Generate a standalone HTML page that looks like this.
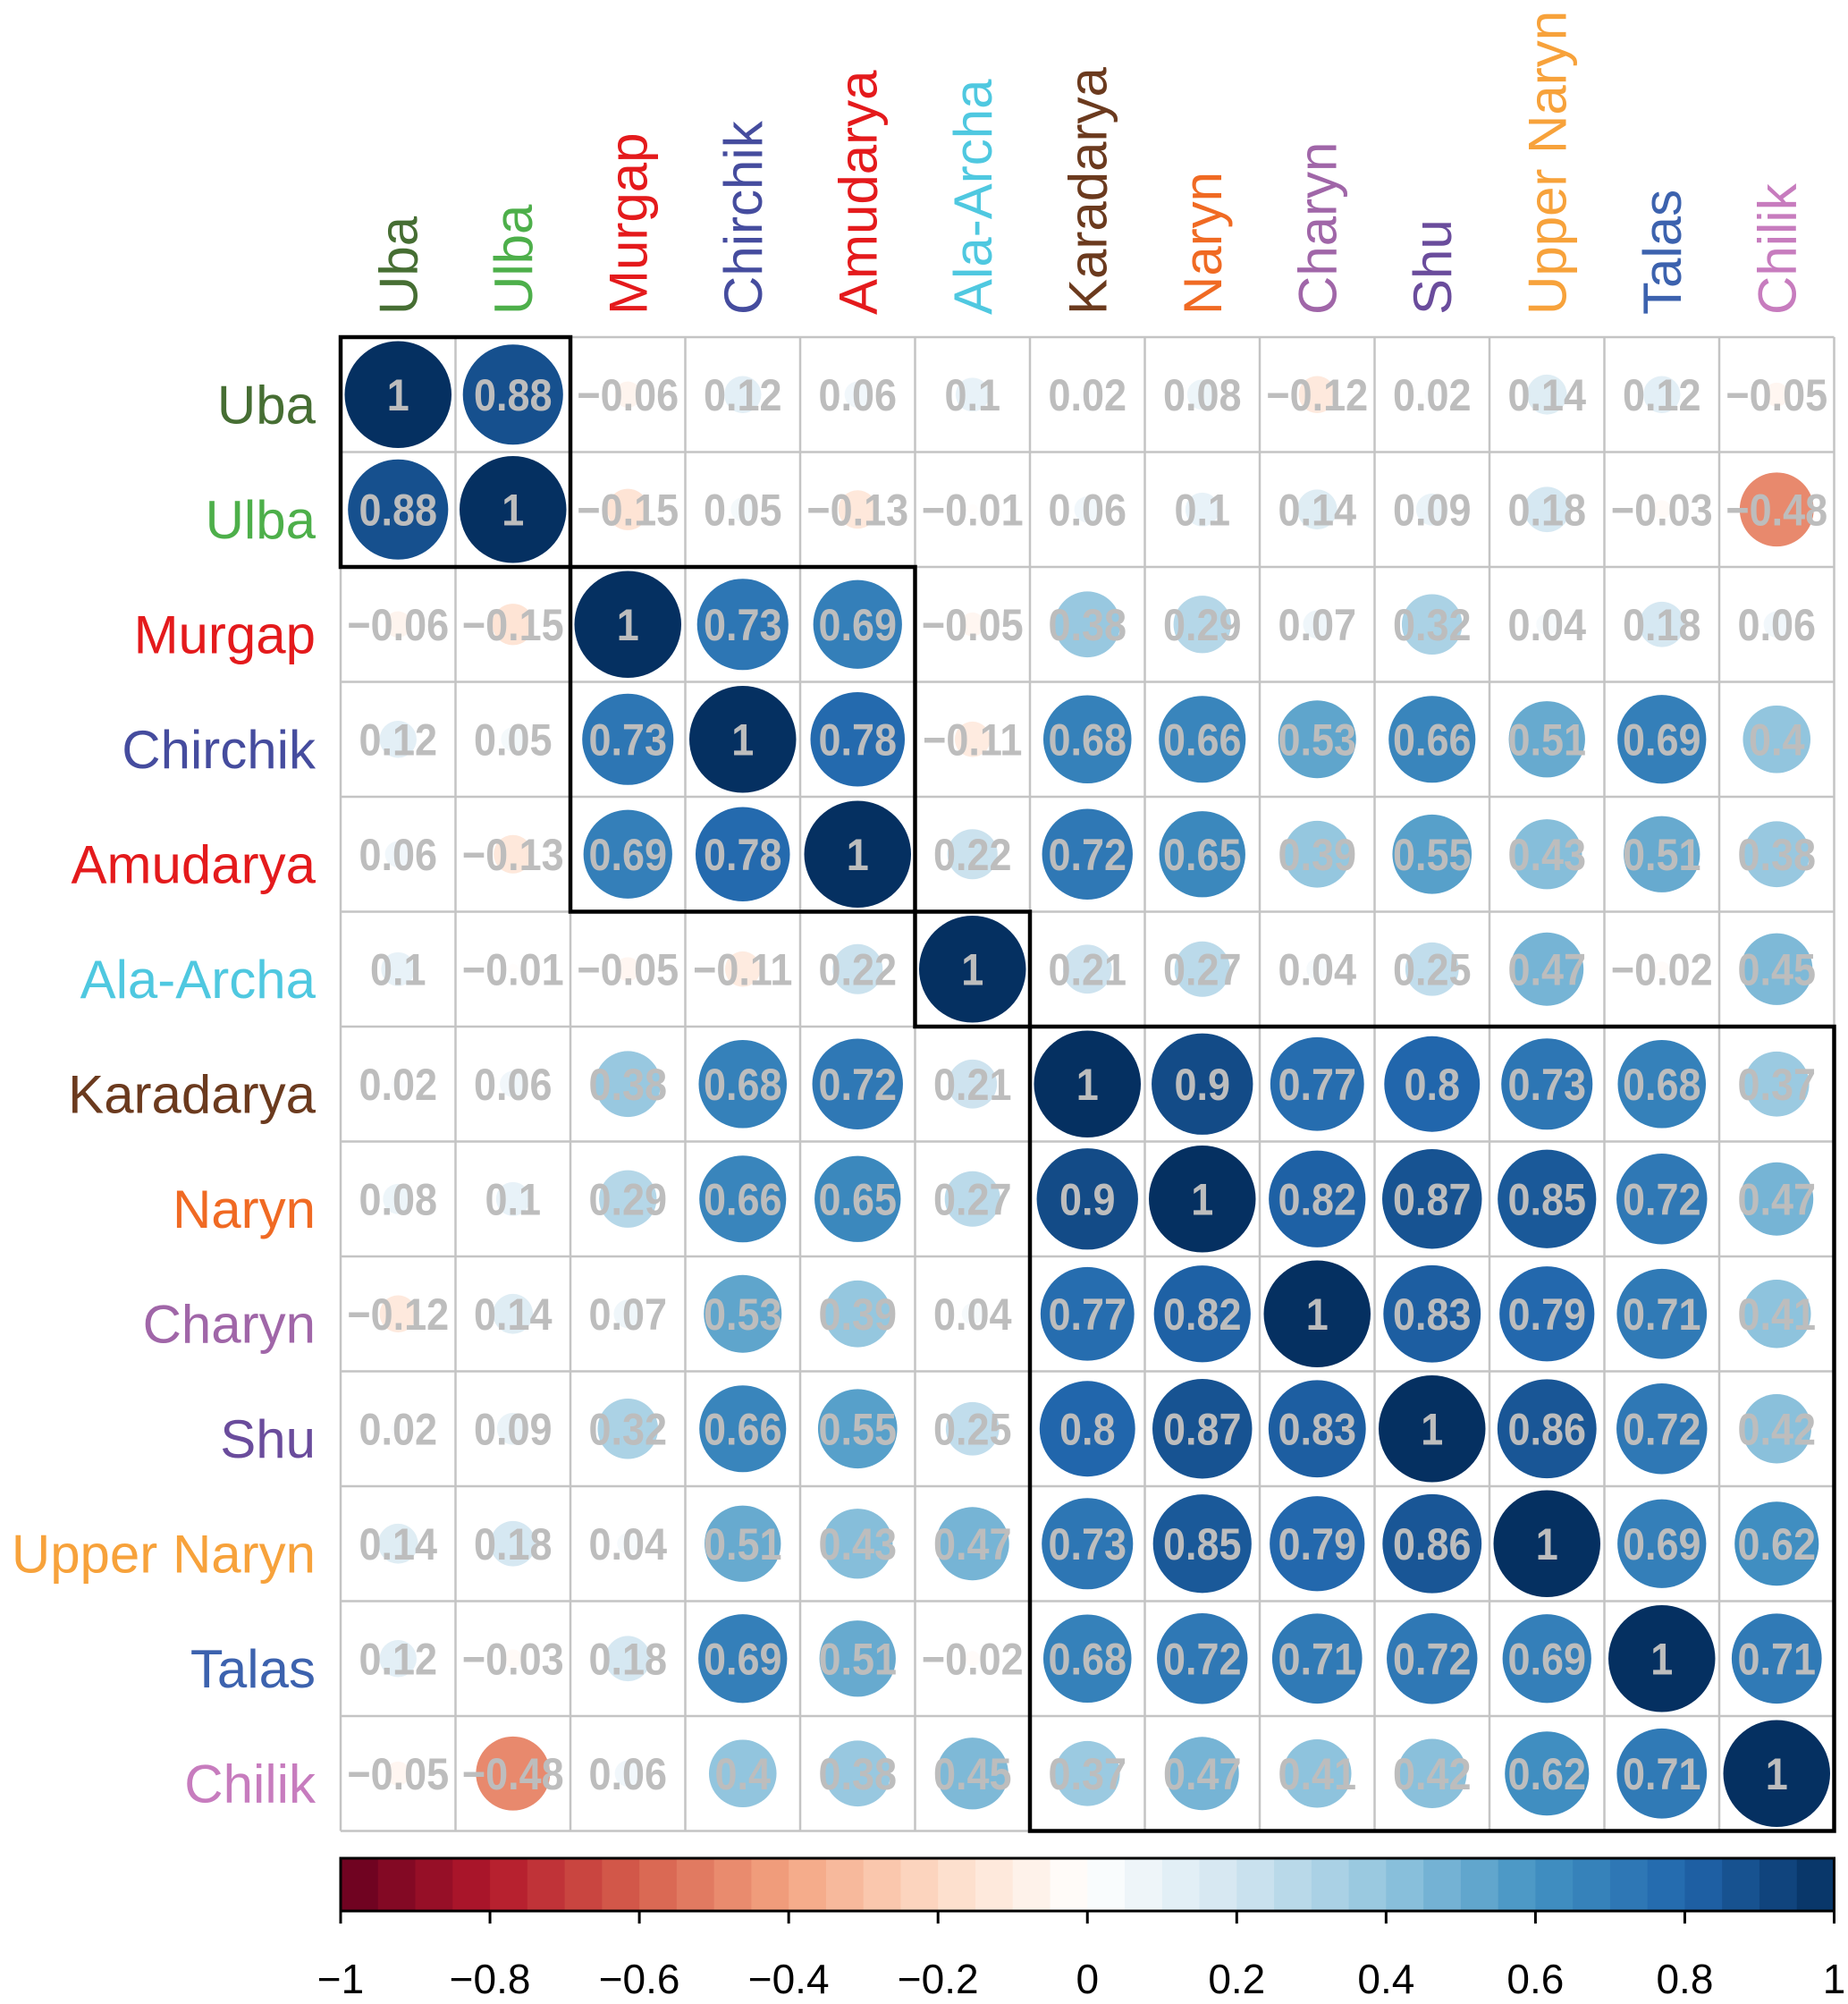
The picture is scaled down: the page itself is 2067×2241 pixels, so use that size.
<!DOCTYPE html>
<html><head><meta charset="utf-8"><style>
html,body{margin:0;padding:0;background:#fff}
svg{display:block}
</style></head><body>
<svg id="chart" width="2067" height="2241" xmlns="http://www.w3.org/2000/svg" font-family="Liberation Sans, Arial, sans-serif"></svg>
<script>
const names = ["Uba","Ulba","Murgap","Chirchik","Amudarya","Ala-Archa","Karadarya","Naryn","Charyn","Shu","Upper Naryn","Talas","Chilik"];
const labelColors = ["#466E33","#4DAF4A","#E41A1C","#454C9E","#E41A1C","#4FC8E0","#6B3A1E","#F06A23","#A066A8","#6A4C9C","#F7A23B","#3C62AE","#C77CBE"];
const corr = [
[1,.88,-.06,.12,.06,.1,.02,.08,-.12,.02,.14,.12,-.05],
[.88,1,-.15,.05,-.13,-.01,.06,.1,.14,.09,.18,-.03,-.48],
[-.06,-.15,1,.73,.69,-.05,.38,.29,.07,.32,.04,.18,.06],
[.12,.05,.73,1,.78,-.11,.68,.66,.53,.66,.51,.69,.4],
[.06,-.13,.69,.78,1,.22,.72,.65,.39,.55,.43,.51,.38],
[.1,-.01,-.05,-.11,.22,1,.21,.27,.04,.25,.47,-.02,.45],
[.02,.06,.38,.68,.72,.21,1,.9,.77,.8,.73,.68,.37],
[.08,.1,.29,.66,.65,.27,.9,1,.82,.87,.85,.72,.47],
[-.12,.14,.07,.53,.39,.04,.77,.82,1,.83,.79,.71,.41],
[.02,.09,.32,.66,.55,.25,.8,.87,.83,1,.86,.72,.42],
[.14,.18,.04,.51,.43,.47,.73,.85,.79,.86,1,.69,.62],
[.12,-.03,.18,.69,.51,-.02,.68,.72,.71,.72,.69,1,.71],
[-.05,-.48,.06,.4,.38,.45,.37,.47,.41,.42,.62,.71,1]];
const clusters = [[0,1],[2,4],[5,5],[6,12]];
const colorTicks = [-1,-0.8,-0.6,-0.4,-0.2,0,0.2,0.4,0.6,0.8,1];

const svg = document.getElementById('chart');
const NS = 'http://www.w3.org/2000/svg';
const X0 = 381, Y0 = 377, CELL = 128.5, N = names.length;
const BX0 = 381, BX1 = X0 + N*CELL, BY0 = 2078, BY1 = 2137;
const stops = ["#67001F","#B2182B","#D6604D","#F4A582","#FDDBC7","#FFFFFF","#D1E5F0","#92C5DE","#4393C3","#2166AC","#053061"];
function hex(h){return [1,3,5].map(i=>parseInt(h.substr(i,2),16));}
function col(v){
  const t=(v+1)/2*(stops.length-1); const i=Math.min(stops.length-2,Math.floor(t)); const f=t-i;
  const a=hex(stops[i]),b=hex(stops[i+1]);
  return 'rgb('+a.map((c,k)=>Math.round(c+(b[k]-c)*f)).join(',')+')';
}
function el(tag,attrs){const e=document.createElementNS(NS,tag);for(const k in attrs)e.setAttribute(k,attrs[k]);svg.appendChild(e);return e;}
function fmt(v){ if(v===1) return '1'; let s=String(Math.abs(v)); return (v<0?'\u2212':'')+(s.startsWith('.')?'0'+s:s); }
const xs = c => X0 + c*CELL;
const ys = r => Y0 + r*CELL;
const bx = v => BX0 + (v+1)/2*(BX1-BX0);

for(let i=0;i<=N;i++){
  const g1=el('line',{x1:xs(i),y1:ys(0),x2:xs(i),y2:ys(N),stroke:'#c4c4c4','stroke-width':2.5});
  
  
  const g2=el('line',{x1:xs(0),y1:ys(i),x2:xs(N),y2:ys(i),stroke:'#c4c4c4','stroke-width':2.5});
  
  
}
for(let r=0;r<N;r++)for(let c=0;c<N;c++){
  const v=corr[r][c];
  const cx=xs(c)+CELL/2, cy=ys(r)+CELL/2;
  const circ=el('circle',{cx:cx,cy:cy,r:0.465*CELL*Math.sqrt(Math.abs(v)),fill:col(v)});
  
  
  const t=el('text',{x:cx,y:cy+18,'text-anchor':'middle','font-size':50,'font-weight':'bold',fill:'#bdbdbd',transform:'translate('+cx+' 0) scale(0.9 1) translate('+(-cx)+' 0)'});
  t.textContent=fmt(v);
  
  
}
for(let i=0;i<N;i++){
  const rl=el('text',{x:353,y:ys(i)+CELL/2+32,'text-anchor':'end','font-size':60,fill:labelColors[i]});
  rl.textContent=names[i];
  
  
  const lx=xs(i)+CELL/2+21;
  const cl=el('text',{x:lx,y:352,'text-anchor':'start','font-size':60,fill:labelColors[i],transform:'rotate(-90 '+lx+' 352)'});
  cl.textContent=names[i];
  
  
}
clusters.forEach(([a,b])=>{
  const rc=el('rect',{x:xs(a),y:ys(a),width:(b-a+1)*CELL,height:(b-a+1)*CELL,fill:'none',stroke:'#000','stroke-width':4.5});
  
  
});
const bins=40;
for(let k=0;k<bins;k++){
  const v0=-1+2*k/bins, v1=-1+2*(k+1)/bins;
  const b=el('rect',{x:bx(v0),y:BY0,width:bx(v1)-bx(v0)+0.8,height:BY1-BY0,fill:col((v0+v1)/2)});
  
  
}
const frame=el('rect',{x:BX0,y:BY0,width:BX1-BX0,height:BY1-BY0,fill:'none',stroke:'#000','stroke-width':3});


colorTicks.forEach(v=>{
  const tk=el('line',{x1:bx(v),y1:BY1,x2:bx(v),y2:BY1+14,stroke:'#000','stroke-width':3});
  
  
  const tl=el('text',{x:bx(v),y:2229,'text-anchor':'middle','font-size':46,fill:'#000'});
  tl.textContent=(v<0?'\u2212':'')+String(Math.abs(Math.round(v*10)/10));
  
  
});
</script>
</body></html>
